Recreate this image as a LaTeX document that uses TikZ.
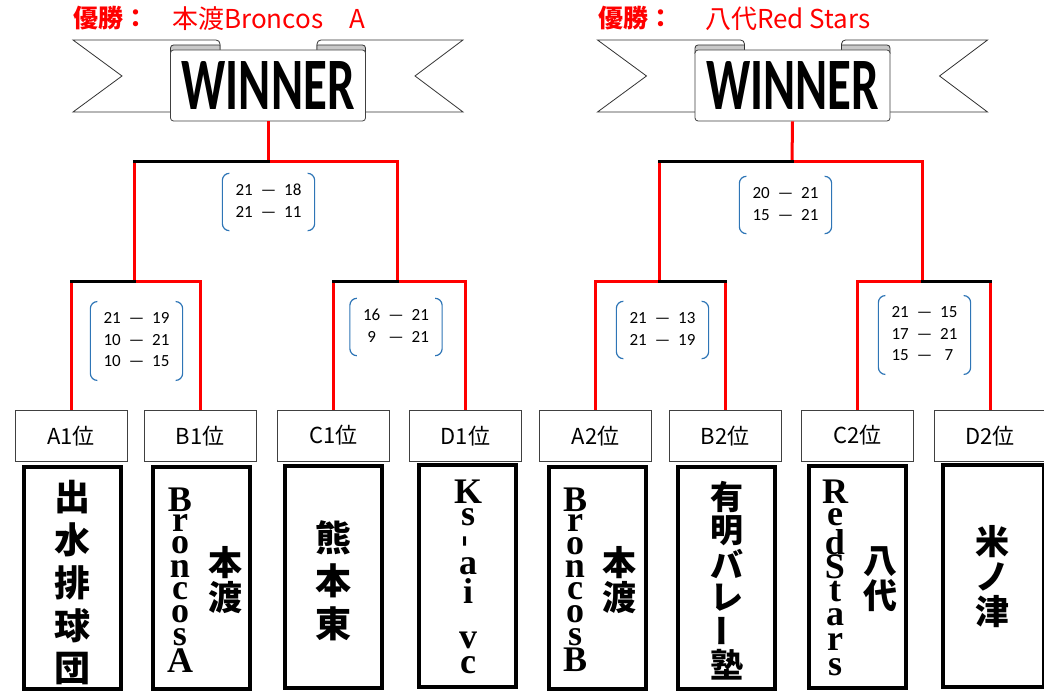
\documentclass[tikz,border=0pt]{standalone}
\usepackage{graphicx}
\usepackage{fontspec}
\setmainfont{Liberation Serif}
\newfontfamily\japonais{Noto Sans CJK JP}
\newfontfamily\calibri{Carlito}
% colonne verticale : une case de hauteur #1 par caractere
\newcommand\Tate[2]{\vbox{\offinterlineskip\foreach \c in {#2}{\hbox to 44pt{\hss\vbox to #1{\vss\hbox{\c}\vss}\hss}}}}
\definecolor{rougevif}{RGB}{255,0,0}
\definecolor{bleuparen}{RGB}{46,117,182}
\definecolor{grisrouleau}{RGB}{200,200,200}
\begin{document}
\begin{tikzpicture}[x=1pt,y=-1pt]
		\tikzstyle{gagnant}=[line width=3pt,color=rougevif]
		\tikzstyle{perdant}=[line width=3pt,color=black,line cap=rect]
		\tikzstyle{ruban}=[draw=black!80,line width=0.8pt,fill=white]
		\tikzstyle{rouleau}=[draw=black!80,line width=0.8pt,fill=grisrouleau]
		\tikzstyle{panneau}=[draw=black!75,line width=0.8pt,fill=white,rounded corners=3pt,minimum width=195pt,minimum height=71pt,inner sep=0pt,font=\calibri\bfseries\fontsize{74}{74}\selectfont]
		\tikzstyle{titre}=[anchor=west,inner sep=0pt,text=rougevif,font=\japonais\fontsize{26}{26}\selectfont]
		\tikzstyle{titregras}=[titre,font=\japonais\bfseries\fontsize{25}{25}\selectfont]
		\tikzstyle{score}=[inner xsep=13pt,inner ysep=7pt,font=\calibri\fontsize{17}{21.5}\selectfont]
		\tikzstyle{parenthese}=[draw=bleuparen,line width=1.2pt,rounded corners=7pt]
		\tikzstyle{rang}=[draw=black!75,line width=0.8pt,fill=white,minimum width=112pt,minimum height=51pt,inner sep=0pt,font=\japonais\fontsize{22}{22}\selectfont]
		\tikzstyle{equipe}=[draw=black,line width=4pt,fill=white,minimum width=97pt,minimum height=222pt]
		\tikzstyle{tate}=[inner sep=0pt]
		\tikzstyle{kanji}=[tate,font=\japonais\bfseries\fontsize{36}{36}\selectfont]
		\tikzstyle{kanjimoyen}=[tate,font=\japonais\bfseries\fontsize{34}{34}\selectfont]
		\tikzstyle{kanjiserre}=[tate,font=\japonais\bfseries\fontsize{33}{33}\selectfont]
		\tikzstyle{lettres}=[tate,font=\bfseries\fontsize{36}{36}\selectfont]
		\def\NiveauFinale{162}
		\def\NiveauDemi{282}
		\def\Parentheses#1{%
			\draw[parenthese] ([xshift=7pt]#1.north west) -- (#1.north west) -- (#1.south west) -- ([xshift=7pt]#1.south west);
			\draw[parenthese] ([xshift=-7pt]#1.north east) -- (#1.north east) -- (#1.south east) -- ([xshift=-7pt]#1.south east);}
		\useasboundingbox (0,0) rectangle (1044,692);
		% banderoles
		\begin{scope}[shift={(268,0)}]
			\draw[ruban] (-195,40) [rounded corners=4pt] -- (-48,40) [sharp corners] -- (-48,112) -- (-195,112) -- (-146,76) -- cycle;
			\draw[ruban] (195,40) [rounded corners=4pt] -- (49,40) [sharp corners] -- (49,112) -- (195,112) -- (147,76) -- cycle;
			\draw[rouleau] (-97.5,54) [rounded corners=3pt] -- (-97.5,45) [sharp corners] -- (-48,45) -- (-48,51);
			\draw[rouleau] (97.5,54) [rounded corners=3pt] -- (97.5,45) [sharp corners] -- (49,45) -- (49,51);
			\node[panneau] (banL) at (0,85.5) {\scalebox{0.66}[1]{WINNER}};
		\end{scope}
		\begin{scope}[shift={(792.5,0)}]
			\draw[ruban] (-195,40) [rounded corners=4pt] -- (-48,40) [sharp corners] -- (-48,112) -- (-195,112) -- (-146,76) -- cycle;
			\draw[ruban] (195,40) [rounded corners=4pt] -- (49,40) [sharp corners] -- (49,112) -- (195,112) -- (147,76) -- cycle;
			\draw[rouleau] (-97.5,54) [rounded corners=3pt] -- (-97.5,45) [sharp corners] -- (-48,45) -- (-48,51);
			\draw[rouleau] (97.5,54) [rounded corners=3pt] -- (97.5,45) [sharp corners] -- (49,45) -- (49,51);
			\node[panneau] (banR) at (0,85.5) {\scalebox{0.66}[1]{WINNER}};
		\end{scope}
		\node[titregras] (vainqueurL) at (73,18) {優勝：};
		\node[titre] (nomL) at (172,19) {本渡Broncos　A};
		\node[titregras] (vainqueurR) at (598,18) {優勝：};
		\node[titre] (nomR) at (705,19) {八代Red Stars};
		% rangs
		\node[rang] (A1) at (71,436) {A1位};
		\node[rang] (B1) at (200,436) {B1位};
		\node[rang] (C1) at (333.5,435.5) {C1位};
		\node[rang] (D1) at (465.5,436) {D1位};
		\node[rang] (A2) at (595.5,436) {A2位};
		\node[rang] (B2) at (725,436) {B2位};
		\node[rang] (C2) at (857.5,435.5) {C2位};
		\node[rang] (D2) at (990,436) {D2位};
		% equipes
		\node[equipe] (eA1) at (72.5,578) {};
		\node[equipe] (eB1) at (201.5,578) {};
		\node[equipe] (eC1) at (333.5,576.5) {};
		\node[equipe] (eD1) at (467.5,575.5) {};
		\node[equipe] (eA2) at (597.5,578) {};
		\node[equipe] (eB2) at (726,578) {};
		\node[equipe] (eC2) at (857.5,577) {};
		\node[equipe,minimum width=101pt] (eD2) at (993,576) {};
		\node[kanji] (tA1) at (72,583) {\Tate{43pt}{出,水,排,球,団}};
		\node[lettres] (tB1a) at (180,580) {\Tate{22.9pt}{B,r,o,n,c,o,s,A}};
		\node[kanjimoyen] (tB1b) at (225,580) {\Tate{35pt}{本,渡}};
		\node[kanji] (tC1) at (333,581) {\Tate{43pt}{熊,本,東}};
		\node[lettres] (tD1) at (468,578.5) {\Tate{24.7pt}{K,s,{\rotatebox[origin=c]{90}{-}},a,i,{},v,c}};
		\node[lettres] (tA2a) at (575,580) {\Tate{22.8pt}{B,r,o,n,c,o,s,B}};
		\node[kanjimoyen] (tA2b) at (619,580) {\Tate{35pt}{本,渡}};
		\node[kanjiserre] (tB2) at (727,581) {\Tate{33.6pt}{有,明,バ,レ,{\rotatebox[origin=c]{90}{ー}},塾}};
		\node[lettres] (tC2a) at (835,579.5) {\Tate{25pt}{R,e,d,S,t,a,r,s}};
		\node[kanjimoyen] (tC2b) at (880,579) {\Tate{34pt}{八,代}};
		\node[kanjimoyen] (tD2) at (992,577) {\Tate{35pt}{米,ノ,津}};
		% scores
		\node[score] (sL) at (268.5,202) {\begin{tabular}{@{}c@{\hspace{8pt}}c@{\hspace{8pt}}c@{}}21&—&18\\21&—&11\end{tabular}};
		\node[score] (sL1) at (136.5,341) {\begin{tabular}{@{}c@{\hspace{8pt}}c@{\hspace{8pt}}c@{}}21&—&19\\10&—&21\\10&—&15\end{tabular}};
		\node[score] (sL2) at (396,327) {\begin{tabular}{@{}c@{\hspace{8pt}}c@{\hspace{8pt}}c@{}}16&—&21\\9&—&21\end{tabular}};
		\node[score] (sR) at (785.5,205) {\begin{tabular}{@{}c@{\hspace{8pt}}c@{\hspace{8pt}}c@{}}20&—&21\\15&—&21\end{tabular}};
		\node[score] (sR1) at (662.5,330) {\begin{tabular}{@{}c@{\hspace{8pt}}c@{\hspace{8pt}}c@{}}21&—&13\\21&—&19\end{tabular}};
		\node[score] (sR2) at (924.5,335) {\begin{tabular}{@{}c@{\hspace{8pt}}c@{\hspace{8pt}}c@{}}21&—&15\\17&—&21\\15&—&7\end{tabular}};
		\Parentheses{sL}
		\Parentheses{sL1}
		\Parentheses{sL2}
		\Parentheses{sR}
		\Parentheses{sR1}
		\Parentheses{sR2}
		% tableau gauche
		\coordinate (fL) at (268,\NiveauFinale);
		\coordinate (dL1) at (134,\NiveauDemi);
		\coordinate (dL2) at (397,\NiveauDemi);
		\draw[gagnant] (banL.south) -- (fL);
		\draw[gagnant] (fL) -| (dL2);
		\draw[gagnant] (fL -| dL1) -- (dL1);
		\draw[gagnant] (dL1 -| A1.north) -- (A1.north);
		\draw[gagnant] (dL1) -| (B1.north);
		\draw[gagnant] (dL2 -| C1.north) -- (C1.north);
		\draw[gagnant] (dL2) -| (D1.north);
		\draw[perdant] (fL) -- (fL -| dL1);
		\draw[perdant] (dL1) -- (dL1 -| A1.north);
		\draw[perdant] (dL2) -- (dL2 -| C1.north);
		% tableau droit
		\coordinate (fR) at (792,\NiveauFinale);
		\coordinate (dR1) at (659,\NiveauDemi);
		\coordinate (dR2) at (922,\NiveauDemi);
		\draw[gagnant] (banR.south) -- (fR);
		\draw[gagnant] (fR) -| (dR2);
		\draw[gagnant] (fR -| dR1) -- (dR1);
		\draw[gagnant] (dR1) -| (A2.north);
		\draw[gagnant] (dR1 -| B2.north) -- (B2.north);
		\draw[gagnant] (dR2) -| (C2.north);
		\draw[gagnant] (dR2 -| D2.north) -- (D2.north);
		\draw[perdant] (fR) -- (fR -| dR1);
		\draw[perdant] (dR1) -- (dR1 -| B2.north);
		\draw[perdant] (dR2) -- (dR2 -| D2.north);
	\end{tikzpicture}
\end{document}
